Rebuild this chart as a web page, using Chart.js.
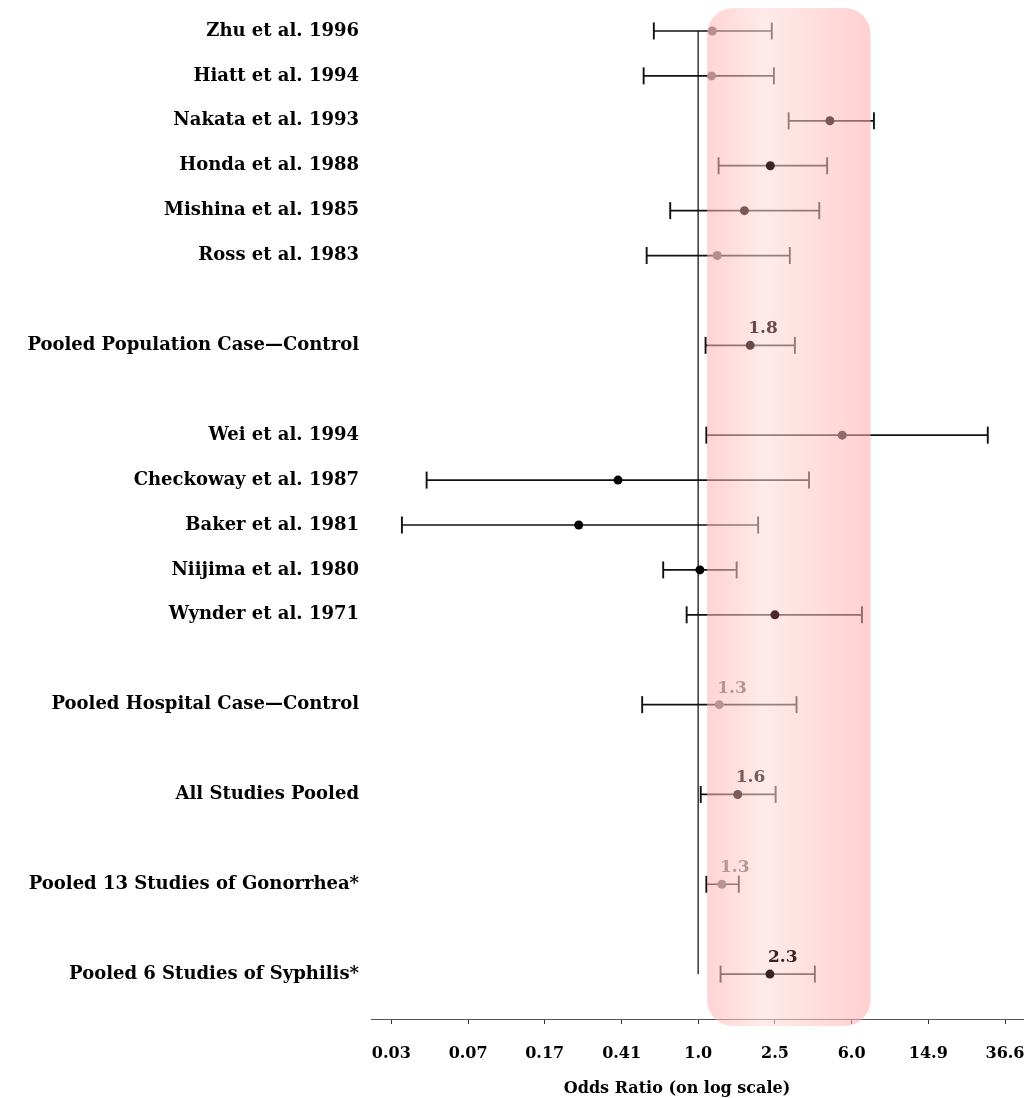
<!DOCTYPE html>
<html lang="en">
<meta charset="utf-8" />
<title>Odds ratio forest plot</title>
<script src="https://cdn.jsdelivr.net/npm/chart.js@4.4.1"></script>
<style>
body{margin:0;background:#fff}
canvas{display:block}
</style>
<body>
<canvas id="chart" width="1025" height="1098"></canvas>
<script>
/* rows top to bottom, '' = empty spacer row */
const rowLabels = [
  'Zhu et al. 1996', 'Hiatt et al. 1994', 'Nakata et al. 1993', 'Honda et al. 1988',
  'Mishina et al. 1985', 'Ross et al. 1983', '',
  'Pooled Population Case\u2014Control', '',
  'Wei et al. 1994', 'Checkoway et al. 1987', 'Baker et al. 1981', 'Niijima et al. 1980',
  'Wynder et al. 1971', '',
  'Pooled Hospital Case\u2014Control', '',
  'All Studies Pooled', '',
  'Pooled 13 Studies of Gonorrhea*', '',
  'Pooled 6 Studies of Syphilis*'
];
const oddsRatio = [1.18, 1.17, 4.69, 2.33, 1.72, 1.25, null, 1.84, null,
                   5.42, 0.39, 0.246, 1.02, 2.46, null, 1.28, null, 1.59, null, 1.32, null, 2.32];
const lowerCI   = [0.594, 0.527, 2.89, 1.27, 0.72, 0.546, null, 1.09, null,
                   1.10, 0.0413, 0.0309, 0.663, 0.873, null, 0.518, null, 1.03, null, 1.10, null, 1.30];
const upperCI   = [2.37, 2.43, 7.86, 4.54, 4.14, 2.93, null, 3.11, null,
                   29.9, 3.67, 2.02, 1.57, 6.83, null, 3.17, null, 2.48, null, 1.61, null, 3.93];
/* rows whose estimate is written above the dot */
const pooledRows = ['Pooled Population Case\u2014Control', 'Pooled Hospital Case\u2014Control',
                    'All Studies Pooled', 'Pooled 13 Studies of Gonorrhea*', 'Pooled 6 Studies of Syphilis*'];

/* x axis: ticks at e^(0.9k) */
const tickValues = [0.0273, 0.0672, 0.165, 0.407, 1, 2.46, 6.05, 14.88, 36.6];
const tickLabels = ['0.03', '0.07', '0.17', '0.41', '1.0', '2.5', '6.0', '14.9', '36.6'];
const axisTitle = 'Odds Ratio (on log scale)';
const axisMin = 0.0215, axisMax = 45.2;
const refValue = 1;
/* shaded band */
const bandLow = 1.11, bandHigh = 7.56;

/* dot colours as they look through the pink band */
const dotColors = ['#b58e8e', '#b58e8e', '#7b5656', '#3d2222', '#7b5656', '#b58e8e', null, '#6a4a4a', null,
                   '#8e6b6b', '#000', '#000', '#000', '#4a2a2a', null, '#b89595', null, '#7a5a5a', null,
                   '#b89595', null, '#3d2222'];

const FONT = 'DejaVu Serif';
const rows = rowLabels.map((l, i) => i).filter(i => oddsRatio[i] !== null);

const whiskers = rows.map(i => ({
  data: [{x: lowerCI[i], y: i}, {x: upperCI[i], y: i}],
  showLine: true,
  borderColor: '#111',
  borderWidth: 1.7,
  pointStyle: 'line',
  pointRotation: 90,
  pointRadius: 8.5,
  pointBorderColor: '#111',
  pointBorderWidth: 1.9,
  order: 2
}));

const dots = {
  data: rows.map(i => ({x: oddsRatio[i], y: i})),
  pointRadius: 4.5,
  pointBackgroundColor: rows.map(i => dotColors[i]),
  pointBorderWidth: 0,
  order: 0
};

const refLine = {
  data: [{x: refValue, y: 0}, {x: refValue, y: rowLabels.length - 1}],
  showLine: true,
  borderColor: '#444',
  borderWidth: 1,
  pointRadius: 0,
  order: 3
};

/* pink band drawn over the whiskers but under the dots */
const bandPlugin = {
  id: 'band',
  beforeDatasetDraw(chart, args) {
    if (args.index !== 0) return;
    const {ctx, chartArea} = chart;
    const xs = chart.scales.x;
    const x1 = xs.getPixelForValue(bandLow), x2 = xs.getPixelForValue(bandHigh);
    const y1 = chartArea.top + 8, y2 = chartArea.bottom + 7;
    const g = ctx.createLinearGradient(x1, 0, x2, 0);
    g.addColorStop(0, 'rgba(255,178,178,0.56)');
    g.addColorStop(0.35, 'rgba(255,218,218,0.56)');
    g.addColorStop(1, 'rgba(255,172,172,0.56)');
    ctx.save();
    ctx.fillStyle = g;
    ctx.beginPath();
    ctx.roundRect(x1, y1, x2 - x1, y2 - y1, 26);
    ctx.fill();
    ctx.restore();
  },
  afterDatasetsDraw(chart) {
    const {ctx} = chart;
    const xs = chart.scales.x, ys = chart.scales.y;
    ctx.save();
    ctx.font = 'bold 17px "' + FONT + '"';
    ctx.textAlign = 'left';
    ctx.textBaseline = 'alphabetic';
    rowLabels.forEach((l, i) => {
      if (!pooledRows.includes(l)) return;
      ctx.fillStyle = dotColors[i];
      ctx.fillText(oddsRatio[i].toFixed(1), xs.getPixelForValue(oddsRatio[i]) - 2, ys.getPixelForValue(i) - 12);
    });
    /* axis title, sits a little left of the plot centre in the original */
    ctx.fillStyle = '#000';
    ctx.textAlign = 'center';
    ctx.textBaseline = 'middle';
    ctx.font = 'bold 16px "' + FONT + '"';
    ctx.fillText(axisTitle, xs.getPixelForValue(0.78), xs.bottom - 9);
    ctx.restore();
  }
};

new Chart(document.getElementById('chart'), {
  type: 'scatter',
  data: {datasets: [dots, ...whiskers, refLine]},
  options: {
    responsive: false,
    animation: false,
    events: [],
    layout: {autoPadding: false, padding: {top: 0, left: 0, bottom: 0, right: 2}},
    plugins: {legend: {display: false}, tooltip: {enabled: false}},
    scales: {
      x: {
        type: 'logarithmic',
        min: axisMin, max: axisMax,
        bounds: 'data',
        afterBuildTicks: s => { s.ticks = tickValues.map(v => ({value: v})); },
        afterFit: s => { s.height = 79; s.paddingLeft = 0; s.paddingRight = 0; },
        ticks: {
          callback: (v, i) => tickLabels[i],
          autoSkip: false, maxRotation: 0, padding: 20,
          color: '#000', font: {family: FONT, size: 16, weight: 'bold'}
        },
        grid: {drawOnChartArea: false, drawTicks: true, tickLength: 5, color: '#333'},
        border: {color: '#555', width: 1}
      },
      y: {
        type: 'linear',
        reverse: true,
        min: -0.69, max: 22,
        afterBuildTicks: s => { s.ticks = rows.map(i => ({value: i})); },
        afterFit: s => { s.width = 371; s.paddingTop = 0; s.paddingBottom = 0; },
        ticks: {
          callback: v => rowLabels[v] || '',
          autoSkip: false, padding: 12,
          color: '#000', font: {family: FONT, size: 18, weight: 'bold'}
        },
        grid: {display: false, drawTicks: false},
        border: {display: false}
      }
    }
  },
  plugins: [bandPlugin]
});
</script>
</body>
</html>
